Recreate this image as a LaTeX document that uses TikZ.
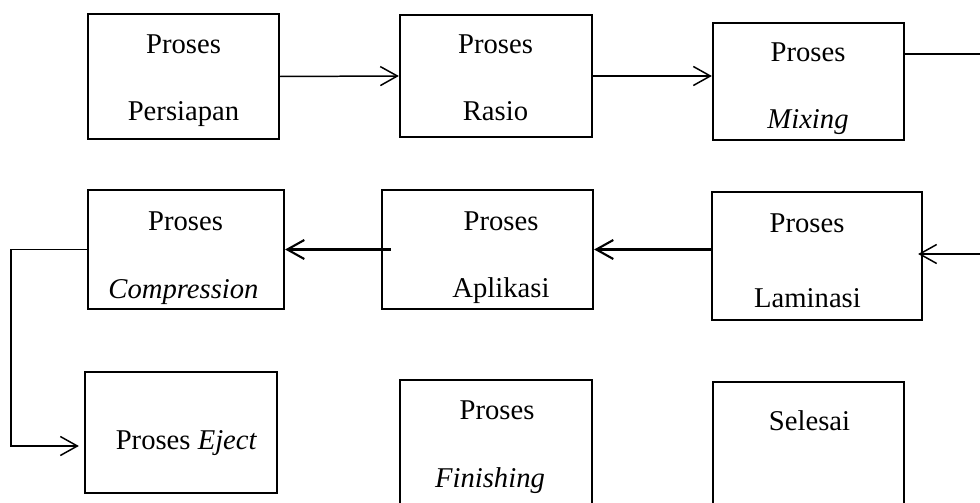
\documentclass[tikz,border=0pt]{standalone}
\usepackage{fontspec}
\setmainfont{Liberation Serif}
\usepackage{tikz}
\usetikzlibrary{arrows.meta}

\begin{document}
\begin{tikzpicture}[
    kotak/.style={draw, line width=1.3pt, inner sep=0pt},
    teks/.style={anchor=base, inner sep=0pt, font=\fontsize{16.3pt}{19pt}\selectfont},
    panah/.style={-{Straight Barb[length=0.34cm,width=0.38cm]}, line width=0.85pt}
  ]
  \useasboundingbox (0,0) rectangle (19.6,10.04);
  \clip (0,0) rectangle (19.6,10.04);

  % baris atas
  \node[kotak, minimum width=3.82cm, minimum height=2.5cm] (persiapan) at (3.67,8.51) {};
  \node[kotak, minimum width=3.84cm, minimum height=2.44cm] (rasio) at (9.92,8.52) {};
  \node[kotak, minimum width=3.82cm, minimum height=2.34cm] (mixing) at (16.17,8.41) {};
  \node[teks] (persiapan-1) at (3.67,8.96) {Proses};
  \node[teks] (persiapan-2) at (3.67,7.62) {Persiapan};
  \node[teks] (rasio-1) at (9.91,8.96) {Proses};
  \node[teks] (rasio-2) at (9.91,7.62) {Rasio};
  \node[teks] (mixing-1) at (16.16,8.80) {Proses};
  \node[teks] (mixing-2) at (16.16,7.46) {\textit{Mixing}};

  % baris tengah
  \node[kotak, minimum width=3.92cm, minimum height=2.38cm] (compression) at (3.72,5.05) {};
  \node[kotak, minimum width=4.22cm, minimum height=2.38cm] (aplikasi) at (9.75,5.05) {};
  \node[kotak, minimum width=4.2cm, minimum height=2.56cm] (laminasi) at (16.34,4.92) {};
  \node[teks] (compression-1) at (3.71,5.42) {Proses};
  \node[teks] (compression-2) at (3.67,4.08) {\textit{Compression}};
  \node[teks] (aplikasi-1) at (10.02,5.42) {Proses};
  \node[teks] (aplikasi-2) at (10.02,4.10) {Aplikasi};
  \node[teks] (laminasi-1) at (16.14,5.38) {Proses};
  \node[teks] (laminasi-2) at (16.15,3.90) {Laminasi};

  % baris bawah
  \node[kotak, minimum width=3.84cm, minimum height=2.42cm] (eject) at (3.62,1.39) {};
  \node[kotak, minimum width=3.84cm, minimum height=3cm] (finishing) at (9.92,0.94) {};
  \node[kotak, minimum width=3.82cm, minimum height=3cm] (selesai) at (16.17,0.90) {};
  \node[teks] (eject-1) at (3.73,1.06) {Proses \textit{Eject}};
  \node[teks] (finishing-1) at (9.94,1.66) {Proses};
  \node[teks] (finishing-2) at (9.80,0.30) {\textit{Finishing}};
  \node[teks] (selesai-1) at (16.19,1.44) {Selesai};

  % titik bantu untuk garis ke tepi
  \coordinate (keluar) at (19.7,8.96);
  \coordinate (masuk) at (19.7,4.96);
  \coordinate (belok) at (0.22,1.12);

  % panah
  \draw[panah] (persiapan.east) -- (rasio.west);
  \draw[panah] (rasio.east) -- (rasio.east -| mixing.west);
  \draw[line width=0.85pt] (keluar -| mixing.east) -- (keluar);
  \draw[panah, shorten >=-0.1cm] (masuk) -- (masuk -| laminasi.east);
  \draw[panah, line width=1.2pt] (laminasi.west |- aplikasi.east) -- (aplikasi.east);
  \draw[panah, line width=1.2pt, shorten <=-0.2cm] (aplikasi.west) -- (compression.east);
  \draw[panah, shorten >=0.1cm] (compression.west) -| (belok) -- (belok -| eject.west);
\end{tikzpicture}
\end{document}
